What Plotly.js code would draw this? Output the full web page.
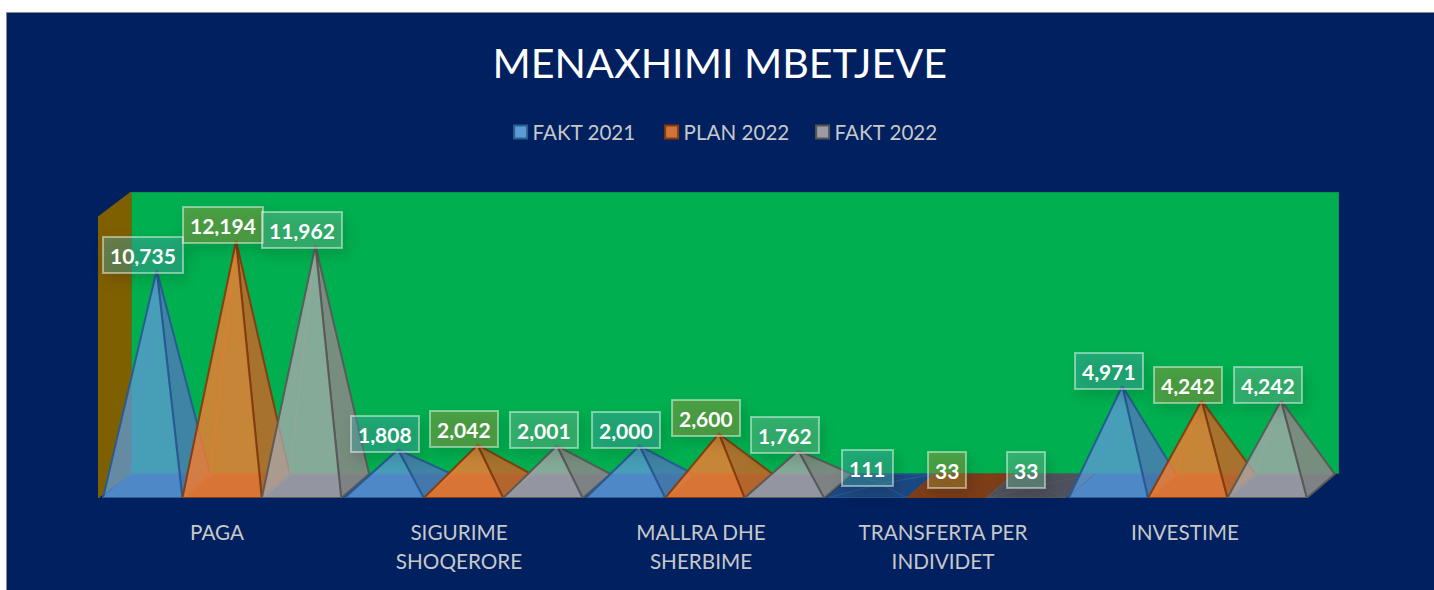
<!DOCTYPE html>
<html>
<head>
<meta charset="utf-8">
<script src="https://cdn.plot.ly/plotly-3.0.1.min.js"></script>
<style>
html,body{margin:0;padding:0;background:#fff;width:1434px;height:590px;overflow:hidden}
#chart{position:absolute;left:6px;top:12px;width:1428px;height:578px;border-left:1px solid #8a8a8a;border-top:1px solid #8a8a8a;}
.annotation rect.bg{filter:drop-shadow(4px 6px 7px rgba(0,0,0,.3))}
.legendsymbols{transform:translate(8px,0)}
</style>
</head>
<body>
<div id="chart"></div>
<script>
const categories = ["PAGA","SIGURIME<br>SHOQERORE","MALLRA DHE<br>SHERBIME","TRANSFERTA PER<br>INDIVIDET","INVESTIME"];
const seriesNames = ["FAKT 2021","PLAN 2022","FAKT 2022"];
const fakt2021 = [10735,1808,2000,111,4971];
const plan2022 = [12194,2042,2600,33,4242];
const fakt2022 = [11962,2001,1762,33,4242];
const seriesValues = [fakt2021,plan2022,fakt2022];

const K = 282/14000;            // px per value unit
const U = 242;                  // px per category
const barW = 79.4/U, start0 = 5/U, step = 241.4/U;
const dX = 28/U, dY = 24/K;
const wallDX = 33/U, wallDY = 24.5/K, wallTop = 306.5/K, xEnd = 1241/U, wallFrontTop = 281.5/K;

const styles = [
 {line:'rgba(38,90,145,.95)', legend:'#5B9BD5', legendLine:'#2A5F8F', front:'rgba(92,152,215,.72)', right:'rgba(72,125,175,.85)', back:'rgba(120,160,213,.16)', base:'rgba(91,155,213,.5)', flat:'rgba(40,90,145,.7)', inner:'rgba(91,130,200,.35)', label:'rgba(71,169,171,.42)'},
 {line:'rgba(130,60,15,.95)', legend:'#D2743A', legendLine:'#843C0C', front:'rgba(240,125,50,.8)', right:'rgba(190,105,40,.85)', back:'rgba(237,125,49,.16)', base:'rgba(237,125,49,.5)', flat:'rgba(140,66,15,.88)', inner:'rgba(230,110,40,.45)', label:'rgba(171,150,57,.42)'},
 {line:'rgba(88,88,88,.95)', legend:'#9A9CA3', legendLine:'#555', front:'rgba(170,168,172,.74)', right:'rgba(135,135,132,.85)', back:'rgba(165,165,165,.16)', base:'rgba(165,165,170,.5)', flat:'rgba(88,88,92,.88)', inner:'rgba(150,150,150,.35)', label:'rgba(114,188,152,.42)'}
];

const traces = [], annotations = [];
function poly(pts, fill, line, lw){
  traces.push({type:'scatter',mode:'lines',x:[...pts.map(p=>p[0]),pts[0][0]],y:[...pts.map(p=>p[1]),pts[0][1]],
    fill:'toself',fillcolor:fill,line:{color:line,width:lw},hoverinfo:'skip',showlegend:false,cliponaxis:false});
}
categories.forEach((c,ci)=>{
  seriesValues.forEach((vals,si)=>{
    const v = vals[ci], s = styles[si], x0 = start0+ci*step+si*barW, x1 = x0+barW;
    const FL=[x0,0],FR=[x1,0],BL=[x0+dX,dY],BR=[x1+dX,dY];
    const A=[(x0+x1+dX)/2, dY/2+v];
    const flat = v<500;
    const none='rgba(0,0,0,0)';
    poly([BL,BR,A], flat?none:s.back, s.inner, 1);
    poly([FL,BL,A], flat?none:s.back, s.inner, 1);
    poly([FL,FR,BR,BL], flat?s.flat:s.base, flat?s.line:s.inner, 1);
    poly([FR,BR,A], flat?none:s.right, s.line, flat?1:2);
    poly([FL,FR,A], flat?none:s.front, s.line, flat?1:2);
    annotations.push({x:(x0+x1)/2+0.003,y:A[1],xref:'x',yref:'y',text:'<b>'+v.toLocaleString('en-US')+'</b>',showarrow:false,
      yanchor:'middle',xanchor:'center',yshift:15.5,bgcolor:s.label,bordercolor:'rgba(255,255,255,.45)',borderwidth:2,borderpad:6,height:22,
      font:{family:'Lato, sans-serif',size:21,color:'#fff'}});
  });
});
seriesNames.forEach((n,i)=>{
  traces.push({type:'scatter',mode:'markers',x:[null],y:[null],name:n,hoverinfo:'skip',
    marker:{symbol:'square',size:13,color:styles[i].legend,line:{color:styles[i].legendLine,width:2}}});
});
const tickvals = categories.map((c,i)=>i+0.5-2/U);

const layout = {
  width:1427,height:577,
  paper_bgcolor:'#002060',plot_bgcolor:'rgba(0,0,0,0)',
  margin:{l:91,r:95,t:179,b:91.5,pad:0},
  title:{text:'MENAXHIMI MBETJEVE',x:0.4995,xanchor:'center',y:0.913,yanchor:'middle',font:{family:'Lato, sans-serif',size:41.2,color:'#fff'}},
  showlegend:true,
  legend:{orientation:'h',x:0.5005,xanchor:'center',y:1.196,yanchor:'middle',entrywidth:106,entrywidthmode:'pixels',font:{family:'Lato, sans-serif',size:20.6,color:'#C8C8C8'},bgcolor:'rgba(0,0,0,0)'},
  xaxis:{range:[0,xEnd],tickmode:'array',tickvals:tickvals,ticktext:categories,showgrid:false,zeroline:false,showline:false,
    ticks:'outside',ticklen:16,tickcolor:'rgba(0,0,0,0)',tickangle:0,tickfont:{family:'Lato, sans-serif',size:20.7,color:'#C8C8C8'},automargin:false,fixedrange:true},
  yaxis:{range:[0,wallTop],visible:false,fixedrange:true},
  shapes:[
    {type:'path',xref:'x',yref:'y',layer:'below',path:`M ${wallDX} ${wallDY} L ${xEnd} ${wallDY} L ${xEnd} ${wallTop} L ${wallDX} ${wallTop} Z`,fillcolor:'#00B050',line:{color:'#0A7A55',width:1}},
    {type:'path',xref:'x',yref:'y',layer:'below',path:`M 0 0 L ${wallDX} ${wallDY} L ${wallDX} ${wallTop} L 0 ${wallFrontTop} Z`,fillcolor:'#7F6000',line:{color:'#7F6000',width:1}}
  ],
  annotations:annotations
};
Plotly.newPlot('chart',traces,layout,{displayModeBar:false,staticPlot:true}).then(gd=>{
  gd.querySelectorAll('.xtick text tspan.line').forEach(t=>{ if(parseFloat(t.getAttribute('dy'))>0) t.setAttribute('dy','1.42em'); });
});
</script>
</body>
</html>
